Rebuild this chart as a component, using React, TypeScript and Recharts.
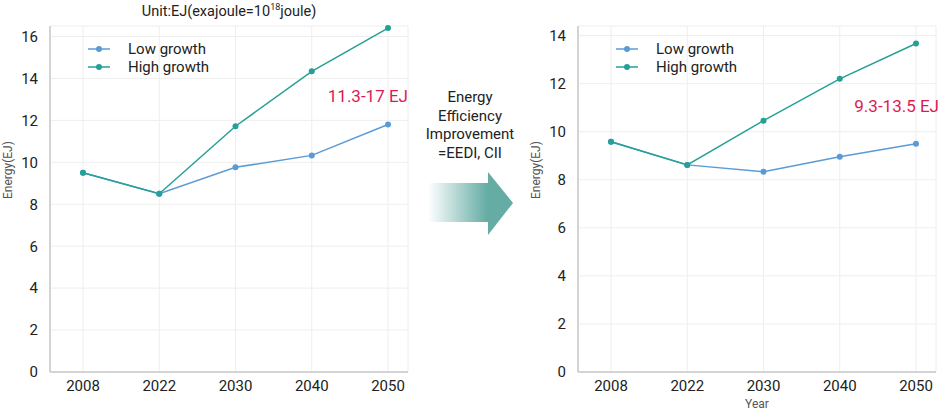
import { LineChart, Line, XAxis, YAxis, CartesianGrid } from "recharts";

const years = ["2008", "2022", "2030", "2040", "2050"];
const lowBefore = [9.5, 8.5, 9.76, 10.33, 11.8];
const highBefore = [9.5, 8.5, 11.72, 14.34, 16.4];
const lowAfter = [9.58, 8.62, 8.33, 8.96, 9.5];
const highAfter = [9.58, 8.62, 10.46, 12.2, 13.67];
const ticksBefore = [0, 2, 4, 6, 8, 10, 12, 14, 16];
const ticksAfter = [0, 2, 4, 6, 8, 10, 12, 14];
const seriesNames = ["Low growth", "High growth"];

const LOW = "#5b9bd5";
const HIGH = "#26a096";
const FONT = "Roboto, 'Noto Sans', sans-serif";

const before = years.map((y, i) => ({ year: y, low: lowBefore[i], high: highBefore[i] }));
const after = years.map((y, i) => ({ year: y, low: lowAfter[i], high: highAfter[i] }));

// legend drawn by hand so it doesn't eat plot space
function SeriesLegend({ left, top }: { left: number; top: number }) {
  const colors = [LOW, HIGH];
  return (
    <div style={{ position: "absolute", left, top, fontSize: 15, color: "#222" }}>
      {seriesNames.map((n, i) => (
        <div key={n} style={{ display: "flex", alignItems: "center", height: 18 }}>
          <svg width={40} height={18}>
            <line x1={0} y1={9} x2={22} y2={9} stroke={colors[i]} strokeWidth={1.5} />
            <circle cx={11} cy={9} r={3} fill={colors[i]} />
          </svg>
          <span>{n}</span>
        </div>
      ))}
    </div>
  );
}

function EnergyChart({ data, ticks, max, showYear }: { data: any[]; ticks: number[]; max: number; showYear?: boolean }) {
  return (
    <LineChart width={420} height={412} data={data} margin={{ top: 26, right: 12, left: 0, bottom: 0 }}>
      <CartesianGrid stroke="#eeeeee" />
      <XAxis
        dataKey="year"
        height={40}
        padding={{ left: 33, right: 20 }}
        tickLine={false}
        stroke="#c8c8c8"
        strokeWidth={1.5}
        tick={{ fontSize: 15, fill: "#222", fontFamily: FONT }}
        tickMargin={2}
        label={showYear ? { value: "Year", position: "insideBottom", offset: 4, fontSize: 12, fill: "#555", fontFamily: FONT } : undefined}
      />
      <YAxis
        width={50}
        domain={[0, max]}
        ticks={ticks}
        tickLine={false}
        stroke="#c8c8c8"
        strokeWidth={1.5}
        tick={{ fontSize: 15, fill: "#222", fontFamily: FONT }}
        tickMargin={6}
        label={{ value: "Energy(EJ)", angle: -90, position: "insideLeft", offset: 8, fontSize: 12, fill: "#555", fontFamily: FONT }}
      />
      <Line name={seriesNames[0]} dataKey="low" stroke={LOW} strokeWidth={1.5} dot={{ r: 3, fill: LOW, strokeWidth: 0 }} isAnimationActive={false} />
      <Line name={seriesNames[1]} dataKey="high" stroke={HIGH} strokeWidth={1.5} dot={{ r: 3, fill: HIGH, strokeWidth: 0 }} isAnimationActive={false} />
    </LineChart>
  );
}

export default function App() {
  return (
    <div style={{ position: "absolute", left: 0, top: 0, width: 950, height: 412, background: "#fff", fontFamily: FONT }}>
      <div style={{ position: "absolute", left: 0, top: 0 }}>
        <EnergyChart data={before} ticks={ticksBefore} max={16.5} />
      </div>
      <div style={{ position: "absolute", left: 528, top: 0 }}>
        <EnergyChart data={after} ticks={ticksAfter} max={14.4} showYear />
      </div>

      <SeriesLegend left={88} top={40} />
      <SeriesLegend left={616} top={40} />

      <div style={{ position: "absolute", left: 129, width: 200, top: 2, textAlign: "center", fontSize: 14.5, color: "#222" }}>
        Unit:EJ(exajoule=10<sup style={{ fontSize: 9 }}>18</sup>joule)
      </div>

      <div style={{ position: "absolute", left: 310, width: 98, top: 86, textAlign: "right", fontSize: 17, color: "#dc1a52" }}>
        11.3-17 EJ
      </div>
      <div style={{ position: "absolute", left: 828, width: 111, top: 96, textAlign: "right", fontSize: 17, color: "#dc1a52" }}>
        9.3-13.5 EJ
      </div>

      <div style={{ position: "absolute", left: 405, width: 130, top: 88, textAlign: "center", fontSize: 15, lineHeight: "18.5px", color: "#222" }}>
        Energy<br />Efficiency<br />Improvement<br />=EEDI, CII
      </div>

      <svg style={{ position: "absolute", left: 420, top: 160 }} width={100} height={90}>
        <defs>
          <linearGradient id="arrowGrad" x1="0" y1="0" x2="1" y2="0">
            <stop offset="0%" stopColor="#64aca4" stopOpacity={0} />
            <stop offset="70%" stopColor="#64aca4" stopOpacity={1} />
          </linearGradient>
        </defs>
        <polygon points="8,23 68,23 68,12 93,43 68,75 68,62 8,62" fill="url(#arrowGrad)" />
      </svg>
    </div>
  );
}
